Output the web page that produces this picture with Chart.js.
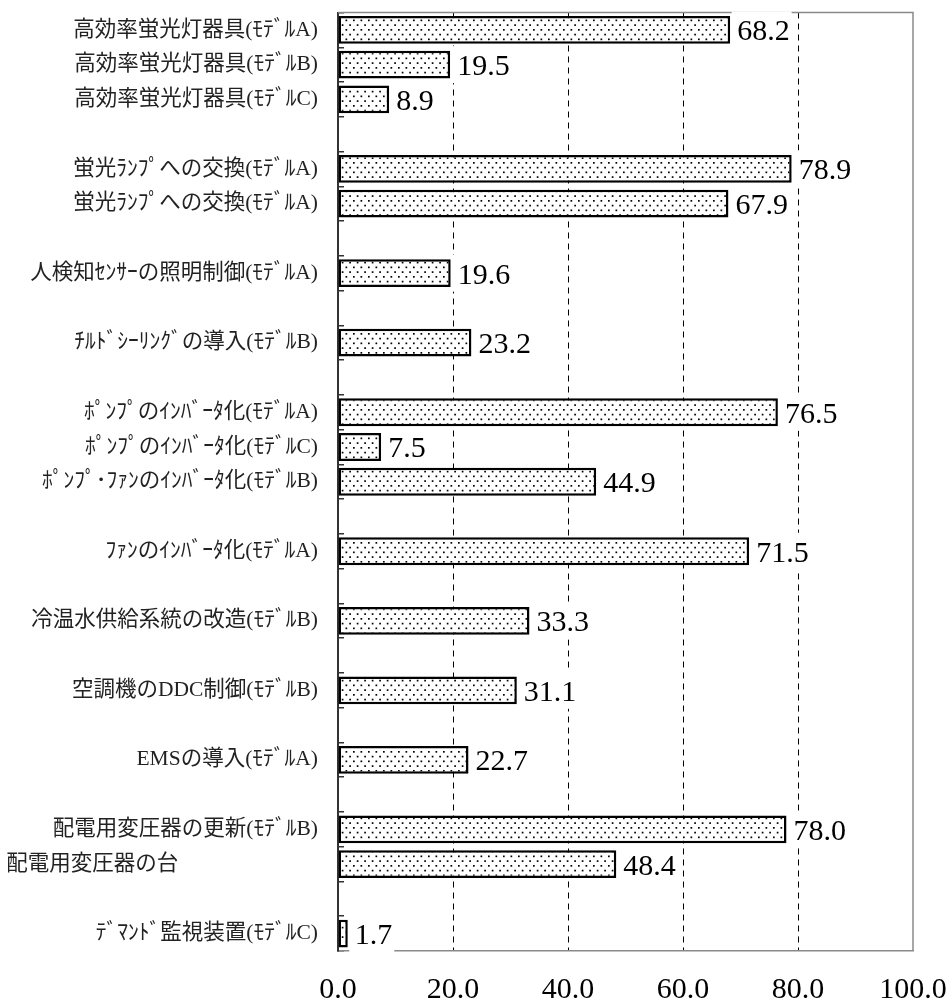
<!DOCTYPE html>
<html>
<head>
<meta charset="utf-8">
<script src="https://cdn.jsdelivr.net/npm/chart.js@4/dist/chart.umd.min.js"></script>
<style>
html,body{margin:0;padding:0;background:#fff;}
#wrap{width:948px;height:1005px;position:relative;}
</style>
</head>
<body>
<div id="wrap"><canvas id="c"></canvas></div>
<script>
// ---- data ----
const categories = [
  '高効率蛍光灯器具(ﾓﾃﾞﾙA)',
  '高効率蛍光灯器具(ﾓﾃﾞﾙB)',
  '高効率蛍光灯器具(ﾓﾃﾞﾙC)',
  '',
  '蛍光ﾗﾝﾌﾟへの交換(ﾓﾃﾞﾙA)',
  '蛍光ﾗﾝﾌﾟへの交換(ﾓﾃﾞﾙA)',
  '',
  '人検知ｾﾝｻｰの照明制御(ﾓﾃﾞﾙA)',
  '',
  'ﾁﾙﾄﾞｼｰﾘﾝｸﾞの導入(ﾓﾃﾞﾙB)',
  '',
  'ﾎﾟﾝﾌﾟのｲﾝﾊﾞｰﾀ化(ﾓﾃﾞﾙA)',
  'ﾎﾟﾝﾌﾟのｲﾝﾊﾞｰﾀ化(ﾓﾃﾞﾙC)',
  'ﾎﾟﾝﾌﾟ･ﾌｧﾝのｲﾝﾊﾞｰﾀ化(ﾓﾃﾞﾙB)',
  '',
  'ﾌｧﾝのｲﾝﾊﾞｰﾀ化(ﾓﾃﾞﾙA)',
  '',
  '冷温水供給系統の改造(ﾓﾃﾞﾙB)',
  '',
  '空調機のDDC制御(ﾓﾃﾞﾙB)',
  '',
  'EMSの導入(ﾓﾃﾞﾙA)',
  '',
  '配電用変圧器の更新(ﾓﾃﾞﾙB)',
  '配電用変圧器の台\u3000\u3000\u3000\u3000\u3000\u3000\u2002',
  '',
  'ﾃﾞﾏﾝﾄﾞ監視装置(ﾓﾃﾞﾙC)'
];
const values = [
  68.2, 19.5, 8.9, null,
  78.9, 67.9, null,
  19.6, null,
  23.2, null,
  76.5, 7.5, 44.9, null,
  71.5, null,
  33.3, null,
  31.1, null,
  22.7, null,
  78.0, 48.4, null,
  1.7
];
const xMin = 0, xMax = 100, xStep = 20;

// ---- dotted pattern ----
function makePattern() {
  const t = document.createElement('canvas');
  t.width = 15; t.height = 19;
  const g = t.getContext('2d');
  g.fillStyle = '#fff';
  g.fillRect(0, 0, 15, 19);
  g.fillStyle = '#000';
  for (let r = 0; r < 4; r++) {
    for (let c = 0; c < 2; c++) {
      const x = 0.5 + (r % 2) * 3.75 + c * 7.5;
      const y = 0.5 + r * 4.75;
      g.fillRect(x, y, 1.7, 1.7);
    }
  }
  return document.getElementById('c').getContext('2d').createPattern(t, 'repeat');
}

const numFont = '"Liberation Serif", "Times New Roman", serif';

const framePlugin = {
  id: 'frame',
  beforeDatasetsDraw(chart) {
    const {ctx, chartArea: a} = chart;
    ctx.save();
    ctx.strokeStyle = '#8a8a8a';
    ctx.lineWidth = 1.5;
    ctx.beginPath();
    ctx.moveTo(a.left, a.top);
    ctx.lineTo(a.right, a.top);
    ctx.lineTo(a.right, a.bottom);
    ctx.stroke();
    ctx.restore();
  },
  afterDatasetsDraw(chart) {
    const {ctx} = chart;
    const meta = chart.getDatasetMeta(0);
    ctx.save();
    ctx.font = '30px ' + numFont;
    ctx.textBaseline = 'alphabetic';
    meta.data.forEach((bar, i) => {
      const v = values[i];
      if (v === null || v === undefined) return;
      const txt = v.toFixed(1);
      const w = ctx.measureText(txt).width;
      const tx = bar.x + 7;
      ctx.fillStyle = '#fff';
      ctx.fillRect(bar.x + 1.5, bar.y - 18.5, tx - bar.x - 1.5 + w + 2, 37);
      ctx.fillStyle = '#000';
      ctx.fillText(txt, tx, bar.y + 10.5);
    });
    ctx.restore();
  }
};

const chart = new Chart(document.getElementById('c'), {
  type: 'bar',
  data: {
    labels: categories,
    datasets: [{
      data: values,
      backgroundColor: makePattern(),
      borderColor: '#000',
      borderWidth: 2.5,
      borderSkipped: false,
      barPercentage: 0.8,
      categoryPercentage: 1.0
    }]
  },
  options: {
    indexAxis: 'y',
    responsive: true,
    maintainAspectRatio: false,
    devicePixelRatio: 1,
    animation: false,
    layout: { padding: 0 },
    plugins: { legend: { display: false }, tooltip: { enabled: false } },
    scales: {
      x: {
        min: xMin, max: xMax,
        ticks: {
          stepSize: xStep,
          callback: v => Number(v).toFixed(1),
          color: '#000',
          padding: 21,
          maxRotation: 0,
          font: { family: numFont, size: 30, lineHeight: 1.2 }
        },
        grid: {
          drawTicks: false,
          lineWidth: 1,
          color: c => (c.tick && (c.tick.value === xMin || c.tick.value === xMax)) ? 'rgba(0,0,0,0)' : '#000'
        },
        border: { display: true, color: '#8a8a8a', width: 1.5, dash: [6, 5] },
        afterFit(s) {
          s.height = 54;
          s.paddingLeft = 0; s.paddingRight = 35; s.paddingTop = 0; s.paddingBottom = 0;
        }
      },
      y: {
        ticks: {
          autoSkip: false,
          color: '#222',
          padding: 26,
          font: { family: '"Liberation Serif", "Noto Sans CJK JP", serif', size: 21.5, lineHeight: 1.2 }
        },
        grid: {
          offset: true,
          drawOnChartArea: false,
          drawTicks: true,
          tickLength: -6,
          color: '#333',
          lineWidth: 1.5
        },
        border: { display: true, color: '#333', width: 2 },
        afterFit(s) {
          s.width = 338;
          s.paddingTop = 12.5; s.paddingBottom = 0; s.paddingLeft = 0; s.paddingRight = 0;
        }
      }
    }
  },
  plugins: [framePlugin]
});
</script>
</body>
</html>
